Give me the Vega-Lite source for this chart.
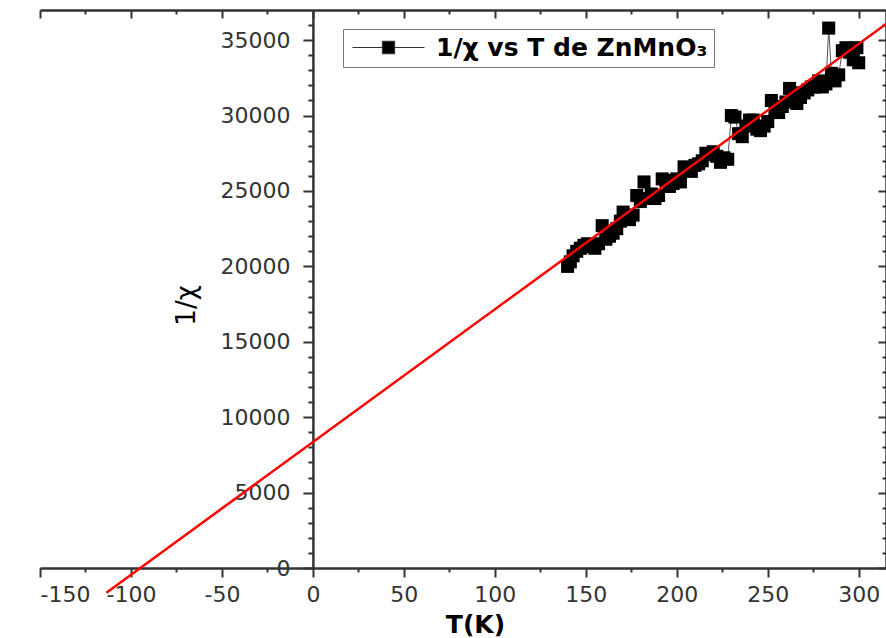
{
  "$schema": "https://vega.github.io/schema/vega-lite/v6.json",
  "width": 846,
  "height": 558,
  "autosize": {"type": "none"},
  "padding": {"left": 40, "top": 10, "right": 0, "bottom": 70},
  "background": "white",
  "config": {
    "view": {"stroke": null},
    "axis": {
      "grid": false,
      "domainColor": "#333",
      "tickColor": "#333",
      "domainWidth": 2,
      "tickWidth": 2,
      "labelFont": "DejaVu Sans",
      "labelColor": "#333",
      "labelOverlap": false,
      "titleFont": "DejaVu Sans",
      "titleColor": "black"
    }
  },
  "datasets": {
    "pts": [
      {"T": 140, "y": 20000}, {"T": 141.5, "y": 20300}, {"T": 143, "y": 20700}, {"T": 145, "y": 21000},
      {"T": 147, "y": 21200}, {"T": 149, "y": 21400}, {"T": 151, "y": 21500}, {"T": 153, "y": 21300},
      {"T": 155, "y": 21200}, {"T": 157, "y": 21500}, {"T": 159, "y": 22700}, {"T": 161, "y": 21800},
      {"T": 163, "y": 22000}, {"T": 165, "y": 22200}, {"T": 167, "y": 22500}, {"T": 169, "y": 23000},
      {"T": 170.5, "y": 23600}, {"T": 172, "y": 23300}, {"T": 174, "y": 23100}, {"T": 176, "y": 23400},
      {"T": 178, "y": 24700}, {"T": 180, "y": 24300}, {"T": 182, "y": 25600}, {"T": 184, "y": 24500},
      {"T": 186, "y": 24800}, {"T": 188, "y": 24500}, {"T": 190, "y": 24700}, {"T": 192, "y": 25800},
      {"T": 194, "y": 25700}, {"T": 196, "y": 25300}, {"T": 198, "y": 25500}, {"T": 200, "y": 25800},
      {"T": 202, "y": 25600}, {"T": 204, "y": 26600}, {"T": 206, "y": 26400}, {"T": 208, "y": 26300},
      {"T": 210, "y": 26700}, {"T": 212, "y": 26800}, {"T": 214, "y": 27000}, {"T": 216, "y": 27500},
      {"T": 218, "y": 27400}, {"T": 220, "y": 27600}, {"T": 222, "y": 27300}, {"T": 224, "y": 26900},
      {"T": 226, "y": 27200}, {"T": 228, "y": 27100}, {"T": 230, "y": 30000}, {"T": 232, "y": 29900},
      {"T": 234, "y": 28800}, {"T": 236, "y": 28600}, {"T": 238, "y": 29300}, {"T": 240, "y": 29700},
      {"T": 242, "y": 29700}, {"T": 244, "y": 29100}, {"T": 246, "y": 29000}, {"T": 248, "y": 29300},
      {"T": 250, "y": 29600}, {"T": 252, "y": 31000}, {"T": 254, "y": 30300}, {"T": 256, "y": 30200},
      {"T": 258, "y": 30600}, {"T": 260, "y": 30900}, {"T": 262, "y": 31800}, {"T": 264, "y": 31500},
      {"T": 266, "y": 30800}, {"T": 268, "y": 31200}, {"T": 270, "y": 31500}, {"T": 272, "y": 31700},
      {"T": 274, "y": 31900}, {"T": 276, "y": 31900}, {"T": 278, "y": 32300}, {"T": 280, "y": 31900},
      {"T": 282, "y": 32100}, {"T": 283.5, "y": 35800}, {"T": 285, "y": 32800}, {"T": 287, "y": 32300},
      {"T": 289, "y": 32700}, {"T": 291, "y": 34300}, {"T": 293, "y": 34500}, {"T": 295, "y": 34200},
      {"T": 297, "y": 33700}, {"T": 299, "y": 34500}, {"T": 300, "y": 33500}
    ],
    "fit": [
      {"T": -113.5, "y": -1638},
      {"T": 318, "y": 36334}
    ]
  },
  "resolve": {"axis": {"x": "independent", "y": "independent"}},
  "layer": [
    {
      "data": {"name": "pts"},
      "mark": {"type": "line", "color": "#555", "strokeWidth": 1},
      "encoding": {
        "x": {
          "field": "T", "type": "quantitative",
          "scale": {"domain": [-150, 315], "nice": false, "zero": false},
          "axis": {"orient": "bottom", "title": null, "labels": false, "tickSize": 4,
                   "values": [-125, -75, -25, 25, 75, 125, 175, 225, 275]}
        },
        "y": {
          "field": "y", "type": "quantitative",
          "scale": {"domain": [0, 37000], "nice": false, "zero": false},
          "axis": {"orient": "left", "offset": -272.9, "title": null, "labels": false, "tickSize": 5,
                   "values": [1000, 2000, 3000, 4000, 6000, 7000, 8000, 9000, 11000, 12000, 13000, 14000, 16000, 17000, 18000, 19000, 21000, 22000, 23000, 24000, 26000, 27000, 28000, 29000, 31000, 32000, 33000, 34000, 36000]}
        }
      }
    },
    {
      "data": {"name": "pts"},
      "mark": {"type": "square", "filled": true, "size": 170, "opacity": 1},
      "encoding": {
        "x": {
          "field": "T", "type": "quantitative",
          "scale": {"domain": [-150, 315], "nice": false, "zero": false},
          "axis": {"orient": "top", "title": null, "labels": false, "tickSize": -8,
                   "values": [-150, -100, -50, 0, 50, 100, 150, 200, 250, 300]}
        },
        "y": {
          "field": "y", "type": "quantitative",
          "scale": {"domain": [0, 37000], "nice": false, "zero": false},
          "axis": {"orient": "right", "title": null, "labels": false, "tickSize": -8,
                   "values": [0, 5000, 10000, 15000, 20000, 25000, 30000, 35000]}
        },
        "color": {
          "datum": "1/χ vs T de ZnMnO₃", "type": "nominal",
          "scale": {"range": ["black"]},
          "legend": {
            "orient": "none", "legendX": 303, "legendY": 19, "title": null,
            "symbolType": "M-1,0H2.33M3.67,0H7M2.33,-0.67H3.67V0.67H2.33Z",
            "symbolSize": 324, "symbolStrokeWidth": 1.2, "symbolStrokeColor": "#333", "symbolFillColor": "black",
            "labelFont": "DejaVu Sans", "labelFontWeight": "bold", "labelFontSize": 25, "labelColor": "black",
            "labelOffset": 62, "labelLimit": 0, "padding": 6,
            "strokeColor": "#777", "fillColor": "white"
          }
        }
      }
    },
    {
      "data": {"name": "fit"},
      "mark": {"type": "line", "color": "#ff0000", "strokeWidth": 2.5},
      "encoding": {
        "x": {
          "field": "T", "type": "quantitative",
          "scale": {"domain": [-150, 315], "nice": false, "zero": false},
          "axis": {"orient": "bottom", "title": "T(K)", "tickSize": 9, "labelPadding": 7,
                   "labelFontSize": 22, "labelExpr": "datum.value + ''",
                   "values": [-150, -100, -50, 0, 50, 100, 150, 200, 250, 300],
                   "titleFontSize": 25, "titleFontWeight": "bold", "titleX": 435, "titleY": 44, "titleBaseline": "top"}
        },
        "y": {
          "field": "y", "type": "quantitative",
          "scale": {"domain": [0, 37000], "nice": false, "zero": false},
          "axis": {"orient": "left", "offset": -272.9, "title": "1/χ", "tickSize": 10, "labelPadding": 13,
                   "labelFontSize": 22, "labelExpr": "datum.value + ''",
                   "values": [0, 5000, 10000, 15000, 20000, 25000, 30000, 35000],
                   "titleFontSize": 26, "titleFontWeight": "normal", "titleX": -113, "titleY": 295}
        }
      }
    },
    {
      "data": {"name": "fit"},
      "mark": {"type": "line", "strokeOpacity": 0},
      "encoding": {
        "x": {
          "field": "T", "type": "quantitative",
          "scale": {"domain": [-150, 315], "nice": false, "zero": false},
          "axis": {"orient": "top", "title": null, "labels": false, "tickSize": -4,
                   "values": [-125, -75, -25, 25, 75, 125, 175, 225, 275]}
        },
        "y": {
          "field": "y", "type": "quantitative",
          "scale": {"domain": [0, 37000], "nice": false, "zero": false},
          "axis": {"orient": "right", "title": null, "labels": false, "tickSize": -4,
                   "values": [1000, 2000, 3000, 4000, 6000, 7000, 8000, 9000, 11000, 12000, 13000, 14000, 16000, 17000, 18000, 19000, 21000, 22000, 23000, 24000, 26000, 27000, 28000, 29000, 31000, 32000, 33000, 34000, 36000]}
        }
      }
    }
  ]
}
